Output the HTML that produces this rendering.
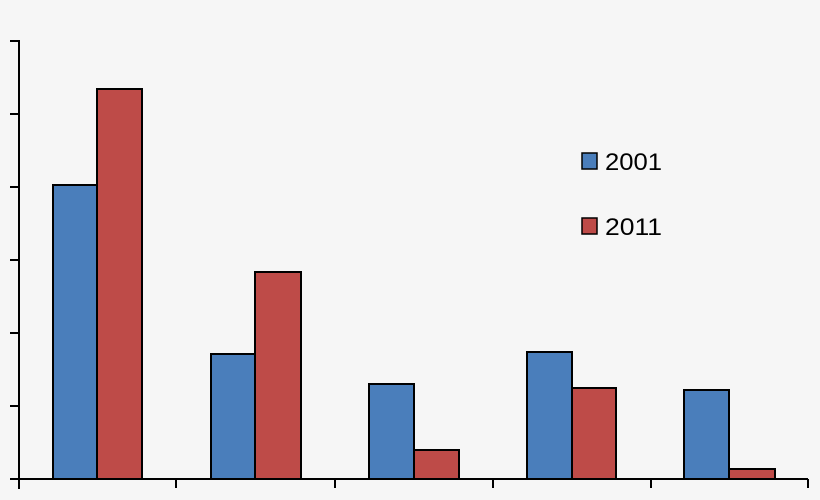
<!DOCTYPE html>
<html><head><style>body{margin:0;background:#f6f6f6}</style></head><body>
<svg width="820" height="500" xmlns="http://www.w3.org/2000/svg" style="display:block">
<rect width="820" height="500" fill="#f6f6f6"/>
<g stroke="#000" stroke-width="2">
<rect x="53" y="185" width="44" height="294" fill="#4a7ebb"/>
<rect x="97" y="89" width="45" height="390" fill="#be4b48"/>
<rect x="211" y="354" width="44" height="125" fill="#4a7ebb"/>
<rect x="255" y="272" width="46" height="207" fill="#be4b48"/>
<rect x="369" y="384" width="45" height="95" fill="#4a7ebb"/>
<rect x="414" y="450" width="45" height="29" fill="#be4b48"/>
<rect x="527" y="352" width="45" height="127" fill="#4a7ebb"/>
<rect x="572" y="388" width="44" height="91" fill="#be4b48"/>
<rect x="684" y="390" width="45" height="89" fill="#4a7ebb"/>
<rect x="729" y="469" width="46" height="10" fill="#be4b48"/>
<line x1="19" y1="40" x2="19" y2="489"/>
<line x1="10" y1="479" x2="808" y2="479"/>
<line x1="10" y1="41" x2="19" y2="41"/>
<line x1="10" y1="114" x2="19" y2="114"/>
<line x1="10" y1="187" x2="19" y2="187"/>
<line x1="10" y1="260" x2="19" y2="260"/>
<line x1="10" y1="333" x2="19" y2="333"/>
<line x1="10" y1="406" x2="19" y2="406"/>
<line x1="176" y1="479" x2="176" y2="488"/>
<line x1="335" y1="479" x2="335" y2="488"/>
<line x1="493" y1="479" x2="493" y2="488"/>
<line x1="651" y1="479" x2="651" y2="488"/>
<line x1="808" y1="479" x2="808" y2="488"/>
<rect x="582" y="153" width="15" height="16" fill="#4a7ebb" stroke-width="1.5"/>
<rect x="582" y="218" width="15" height="16" fill="#be4b48" stroke-width="1.5"/>
</g>
<g font-family="Liberation Sans, sans-serif" font-size="24" fill="#000">
<text x="605" y="170" textLength="57" lengthAdjust="spacingAndGlyphs">2001</text>
<text x="605" y="235" textLength="57" lengthAdjust="spacingAndGlyphs">2011</text>
</g>
</svg>
</body></html>
